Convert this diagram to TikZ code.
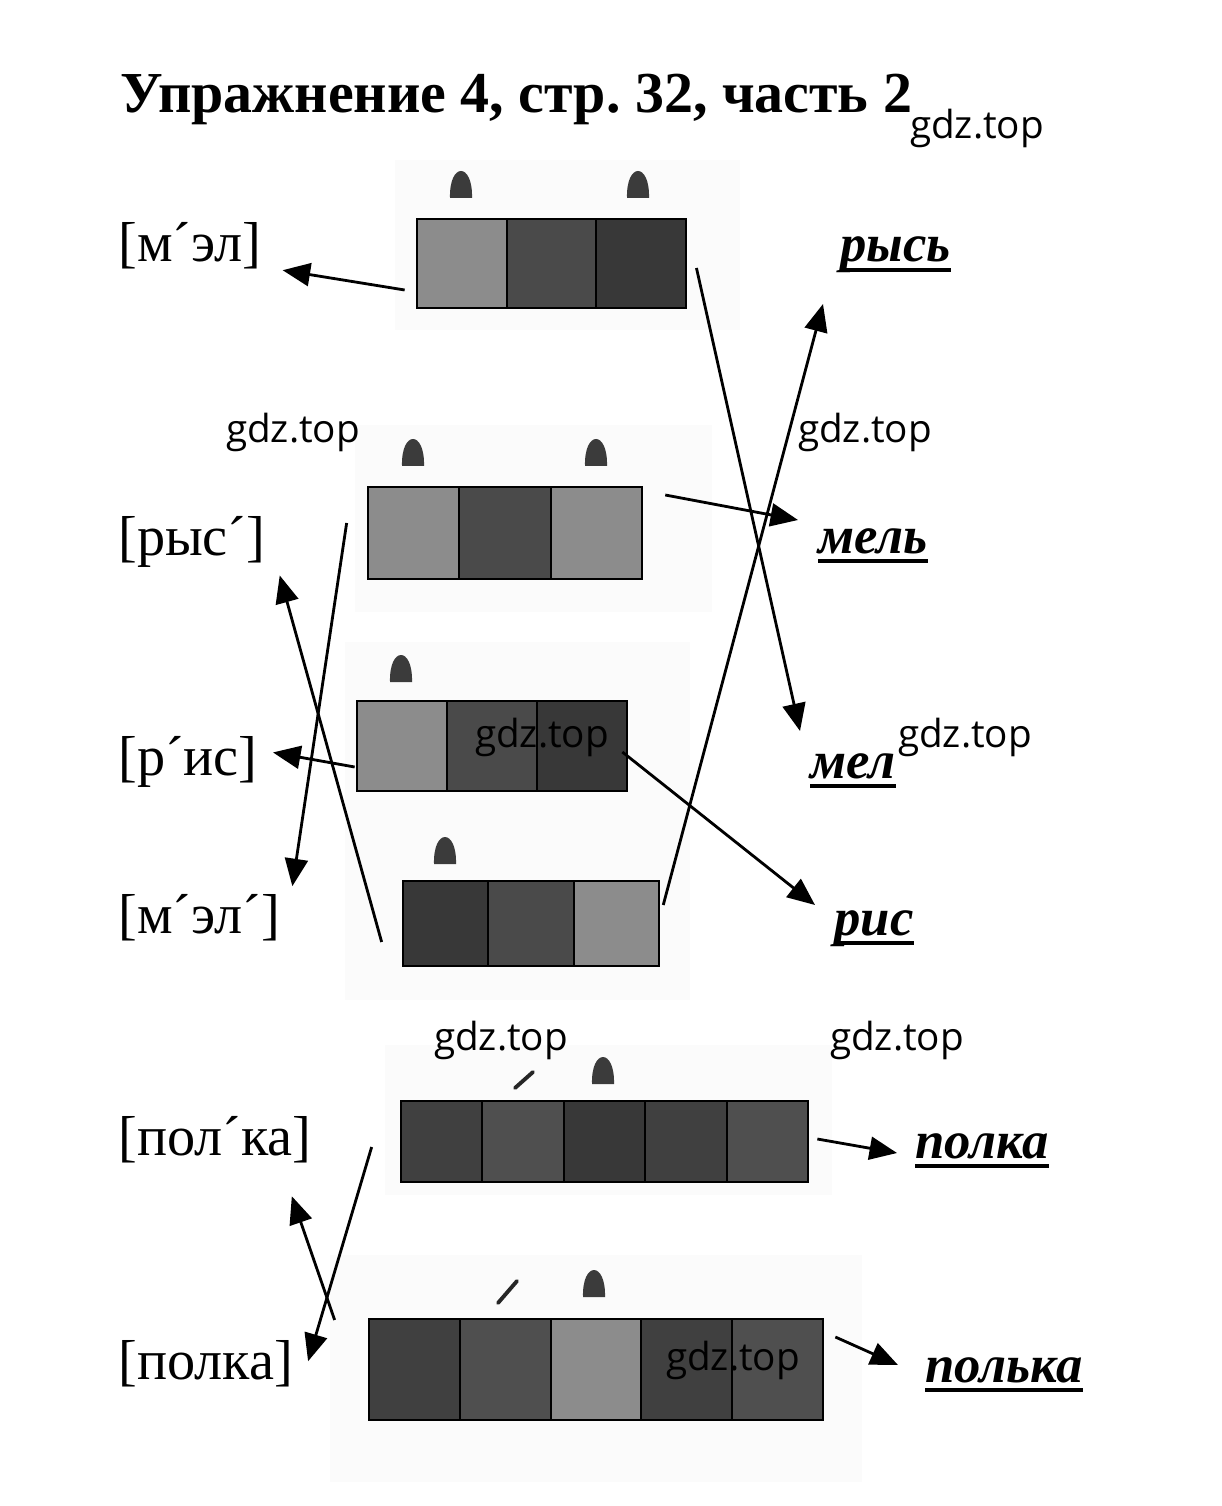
\documentclass[tikz,border=0pt]{standalone}
\usepackage{fontspec}
\setmainfont{Liberation Serif}
\newfontfamily\wmfont{Open Sans}
\usetikzlibrary{arrows.meta,calc}
\frenchspacing

\definecolor{cellmid}{gray}{0.55}
\definecolor{celldark}{gray}{0.29}
\definecolor{cellblack}{gray}{0.22}
\definecolor{cellE}{gray}{0.25}
\definecolor{cellF}{gray}{0.31}
\definecolor{markgray}{gray}{0.23}
\definecolor{paper}{gray}{0.985}

\tikzset{
  cell/.style={draw=black,line width=1.2pt},
  link/.style={-{Triangle[length=0.55cm,width=0.46cm]},line width=1.6pt},
  trans/.style={inner sep=0pt,font=\fontsize{32}{32}\selectfont},
  hw/.style={inner sep=0pt,font=\fontsize{30}{30}\selectfont\bfseries\itshape},
  uline/.style={line width=1.8pt},
  wm/.style={inner sep=0pt,font=\wmfont\fontsize{22}{22}\selectfont},
  stress/.style={fill=markgray},
  slash/.style={line width=2.2pt,line cap=round,black!85},
}

% one row of sound cells: name, x, y, cell width, height, cells, fills
\newcommand{\cellrow}[7]{%
  \foreach \f [count=\i from 0] in {#7}
    \draw[cell,fill=\f] ({#2+\i*#4},#3) rectangle ({#2+(\i+1)*#4},{#3+#5});
  \node[inner sep=0pt,minimum width={#4*#6*0.02cm},minimum height={#5*0.02cm}] (#1) at ({#2+#4*#6/2},{#3+#5/2}) {};
}
% stress mark above a cell: x, bottom
\newcommand{\stressmark}[2]{%
  \fill[stress] ({#1-11},#2) .. controls ({#1-12},{#2-36}) and ({#1+12},{#2-36}) .. ({#1+11},#2) -- cycle;}

\begin{document}
\begin{tikzpicture}[x=0.02cm,y=-0.02cm]
  \useasboundingbox (0,0) rectangle (1221,1506);
  \fill[white] (0,0) rectangle (1221,1506);

  % scanned paper
  \fill[paper] (395,160) rectangle (740,330);
  \fill[paper] (355,425) rectangle (712,612);
  \fill[paper] (345,642) rectangle (690,1000);
  \fill[paper] (385,1045) rectangle (832,1195);
  \fill[paper] (330,1255) rectangle (862,1482);

  \node[anchor=base west,inner sep=0pt,font=\fontsize{33}{33}\selectfont\bfseries] (title) at (120,113) {Упражнение 4, стр. 32, часть 2};

  % the sound models
  \cellrow{boxmel}{417}{219}{89.7}{89}{3}{cellmid,celldark,cellblack}
  \cellrow{boxmelj}{368}{487}{91.3}{92}{3}{cellmid,celldark,cellmid}
  \cellrow{boxris}{357}{701}{90}{90}{3}{cellmid,celldark,cellblack}
  \cellrow{boxrys}{403}{881}{85.3}{85}{3}{cellblack,celldark,cellmid}
  \cellrow{boxpolka}{401}{1101}{81.4}{81}{5}{cellE,cellF,cellblack,cellE,cellF}
  \cellrow{boxpolja}{369}{1319}{90.8}{101}{5}{cellE,cellF,cellmid,cellE,cellF}

  \stressmark{461}{198}
  \stressmark{638}{198}
  \stressmark{413}{466}
  \stressmark{596}{466}
  \stressmark{401}{682}
  \stressmark{445}{864}
  \stressmark{603}{1084}
  \stressmark{594}{1297}
  \draw[slash] (515,1088) -- (533,1072);
  \draw[slash] (498,1303) -- (517,1281);

  % transcriptions
  \node[trans,anchor=base west] (trmel) at (118,262) {[м´эл]};
  \node[trans,anchor=base west] (trrys) at (118,555) {[рыс´]};
  \node[trans,anchor=base west] (trris) at (118,775) {[р´ис]};
  \node[trans,anchor=base west] (trmelj) at (118,933) {[м´эл´]};
  \node[trans,anchor=base west] (trpolja) at (118,1155) {[пол´ка]};
  \node[trans,anchor=base west] (trpolka) at (118,1379) {[полка]};

  % words
  \node[hw,anchor=base west] (wrys) at (840,262) {рысь};
  \node[hw,anchor=base west] (wmelj) at (818,553) {мель};
  \node[hw,anchor=base west] (wmel) at (810,778) {мел};
  \node[hw,anchor=base west] (wris) at (834,935) {рис};
  \node[hw,anchor=base west] (wpolka) at (915,1158) {полка};
  \node[hw,anchor=base west] (wpolja) at (925,1382) {полька};
  \foreach \w in {wrys,wmelj,wmel,wris,wpolka,wpolja}
    \draw[uline] ([yshift=-0.16cm]\w.base west) -- ([yshift=-0.16cm]\w.base east);

  % connections
  \draw[link] ([shift={(-12,26.5)}]boxmel.west) -- ([shift={(21,24)}]trmel.east);
  \draw[link] ([shift={(10,4.5)}]boxmel.east) -- ([shift={(-10,-47)}]wmel.base west);
  \draw[link] ([shift={(-21,-10)}]boxmelj.west) -- ([shift={(12,-31)}]trmelj.east);
  \draw[link] ([shift={(23,-38)}]boxmelj.east) -- ([shift={(-20,-33)}]wmelj.base west);
  \draw[link] ([shift={(-2,21)}]boxris.west) -- ([shift={(15,-9)}]trris.east);
  \draw[link] ([shift={(-5,6)}]boxris.east) -- ([shift={(-19,-30)}]wris.base west);
  \draw[link] ([shift={(-21,18.5)}]boxrys.west) -- ([shift={(14,34)}]trrys.east);
  \draw[link] ([shift={(4,-18.5)}]boxrys.east) -- ([shift={(-17,42)}]wrys.base west);
  \draw[link] ([shift={(9,-2.5)}]boxpolka.east) -- ([shift={(-18,-5)}]wpolka.base west);
  \draw[link] ([shift={(-29,5.5)}]boxpolka.west) -- ([shift={(15,-2)}]trpolka.east);
  \draw[link] ([shift={(-34,-49.5)}]boxpolja.west) -- ([shift={(-20,57)}]trpolja.east);
  \draw[link] ([shift={(12,-32.5)}]boxpolja.east) -- ([shift={(-27,-17)}]wpolja.base west);

  % watermarks
  \node[wm] (wm1) at (977,128) {gdz.top};
  \node[wm] (wm2) at (293,432) {gdz.top};
  \node[wm] (wm3) at (865,432) {gdz.top};
  \node[wm] (wm4) at (542,737) {gdz.top};
  \node[wm] (wm5) at (965,737) {gdz.top};
  \node[wm] (wm6) at (501,1040) {gdz.top};
  \node[wm] (wm7) at (897,1040) {gdz.top};
  \node[wm] (wm8) at (733,1360) {gdz.top};
\end{tikzpicture}
\end{document}
